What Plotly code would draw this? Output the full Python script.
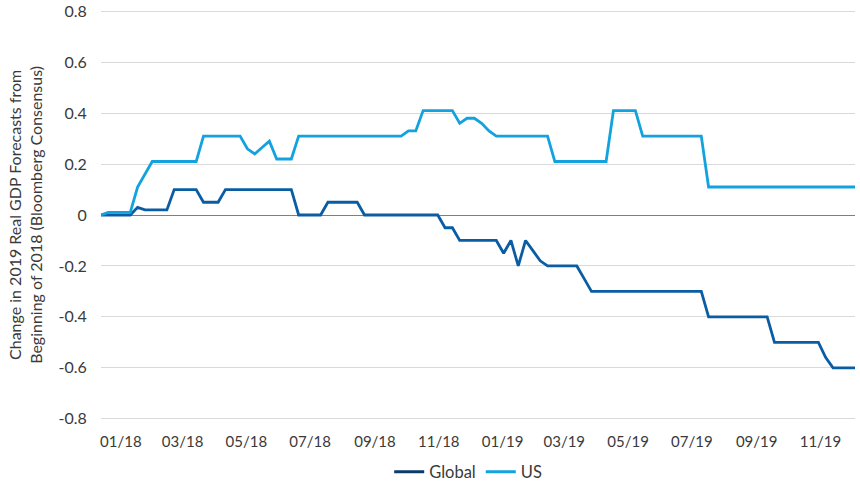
import pandas as pd
import plotly.graph_objects as go

# Weekly observations (Fridays), Jan 2018 - Dec 2019
dates = pd.date_range("2018-01-05", periods=104, freq="7D")

global_vals = [
    0, 0, 0, 0, 0, 0.03, 0.02, 0.02, 0.02, 0.02,            # 0-9
    0.10, 0.10, 0.10, 0.10, 0.05, 0.05, 0.05, 0.10, 0.10, 0.10,  # 10-19
    0.10, 0.10, 0.10, 0.10, 0.10, 0.10, 0.10, 0, 0, 0,        # 20-29
    0, 0.05, 0.05, 0.05, 0.05, 0.05, 0, 0, 0, 0,              # 30-39
    0, 0, 0, 0, 0, 0, 0, -0.05, -0.05, -0.10,                 # 40-49
    -0.10, -0.10, -0.10, -0.10, -0.10, -0.15, -0.10, -0.20, -0.10, -0.14,  # 50-59
    -0.18, -0.20, -0.20, -0.20, -0.20, -0.20, -0.25, -0.30, -0.30, -0.30,  # 60-69
    -0.30, -0.30, -0.30, -0.30, -0.30, -0.30, -0.30, -0.30, -0.30, -0.30,  # 70-79
    -0.30, -0.30, -0.30, -0.40, -0.40, -0.40, -0.40, -0.40, -0.40, -0.40,  # 80-89
    -0.40, -0.40, -0.50, -0.50, -0.50, -0.50, -0.50, -0.50, -0.50, -0.56,  # 90-99
    -0.60, -0.60, -0.60, -0.60,                                # 100-103
]

us_vals = [
    0, 0.01, 0.01, 0.01, 0.01, 0.11, 0.16, 0.21, 0.21, 0.21,   # 0-9
    0.21, 0.21, 0.21, 0.21, 0.31, 0.31, 0.31, 0.31, 0.31, 0.31,  # 10-19
    0.26, 0.24, 0.265, 0.29, 0.22, 0.22, 0.22, 0.31, 0.31, 0.31,  # 20-29
    0.31, 0.31, 0.31, 0.31, 0.31, 0.31, 0.31, 0.31, 0.31, 0.31,  # 30-39
    0.31, 0.31, 0.33, 0.33, 0.41, 0.41, 0.41, 0.41, 0.41, 0.36,  # 40-49
    0.38, 0.38, 0.36, 0.33, 0.31, 0.31, 0.31, 0.31, 0.31, 0.31,  # 50-59
    0.31, 0.31, 0.21, 0.21, 0.21, 0.21, 0.21, 0.21, 0.21, 0.21,  # 60-69
    0.41, 0.41, 0.41, 0.41, 0.31, 0.31, 0.31, 0.31, 0.31, 0.31,  # 70-79
    0.31, 0.31, 0.31, 0.11, 0.11, 0.11, 0.11, 0.11, 0.11, 0.11,  # 80-89
    0.11, 0.11, 0.11, 0.11, 0.11, 0.11, 0.11, 0.11, 0.11, 0.11,  # 90-99
    0.11, 0.11, 0.11, 0.11,                                    # 100-103
]

tick_months = ["2018-01", "2018-03", "2018-05", "2018-07", "2018-09", "2018-11",
               "2019-01", "2019-03", "2019-05", "2019-07", "2019-09", "2019-11"]
tick_labels = ["01/18", "03/18", "05/18", "07/18", "09/18", "11/18",
               "01/19", "03/19", "05/19", "07/19", "09/19", "11/19"]
y_ticks = [-0.8, -0.6, -0.4, -0.2, 0, 0.2, 0.4, 0.6, 0.8]
y_tick_labels = ["-0.8", "-0.6", "-0.4", "-0.2", "0", "0.2", "0.4", "0.6", "0.8"]

series_names = ["Global", "US"]
line_colors = ["#0A5DA3", "#12A3DE"]
legend_colors = ["#0D3A6B", "#12A3DE"]
y_title = "Change in 2019 Real GDP Forecasts from<br>Beginning of 2018 (Bloomberg Consensus)"

FONT = "Lato, 'Open Sans', sans-serif"
TXT = "#3a3a3a"

fig = go.Figure()
for name, vals, col in zip(series_names, [global_vals, us_vals], line_colors):
    fig.add_trace(go.Scatter(x=dates, y=vals, mode="lines", name=name,
                             line=dict(color=col, width=2.8), showlegend=False))
for name, col in zip(series_names, legend_colors):
    fig.add_trace(go.Scatter(x=[None], y=[None], mode="lines", name=name,
                             line=dict(color=col, width=3), showlegend=True))

tickvals = [pd.Timestamp(m + "-24") for m in tick_months]

fig.add_annotation(text=y_title, xref="paper", yref="paper", x=-0.101, y=0.5,
                   xanchor="center", yanchor="middle", textangle=-90, showarrow=False,
                   font=dict(size=16, color=TXT), align="center")

fig.update_layout(
    width=860, height=483,
    margin=dict(l=101, r=5, t=10, b=63, autoexpand=False),
    paper_bgcolor="white", plot_bgcolor="white",
    font=dict(family=FONT, size=15, color=TXT),
    showlegend=True,
    legend=dict(orientation="h", x=0.487, xanchor="center", y=-0.127, yanchor="middle",
                font=dict(size=16.5, color=TXT), tracegroupgap=0),
    xaxis=dict(
        range=[dates[0], dates[-1]], automargin=False,
        tickvals=tickvals, ticktext=tick_labels,
        showgrid=False, zeroline=False, showline=False,
        ticks="outside", ticklen=8, tickcolor="rgba(0,0,0,0)",
        tickfont=dict(size=15, color=TXT),
    ),
    yaxis=dict(
        range=[-0.805, 0.805], automargin=False,
        tickvals=y_ticks, ticktext=y_tick_labels,
        showgrid=True, gridcolor="#d9d9d9", gridwidth=1,
        zeroline=True, zerolinecolor="#7f7f7f", zerolinewidth=1,
        showline=False, ticklabeloverflow="allow",
        ticks="outside", ticklen=10, tickcolor="rgba(0,0,0,0)",
        tickfont=dict(size=16, color=TXT),
    ),
)

fig.write_html("out.html", config={"displayModeBar": False},
               post_script="document.body.style.margin='0';document.body.style.overflow='hidden';")
